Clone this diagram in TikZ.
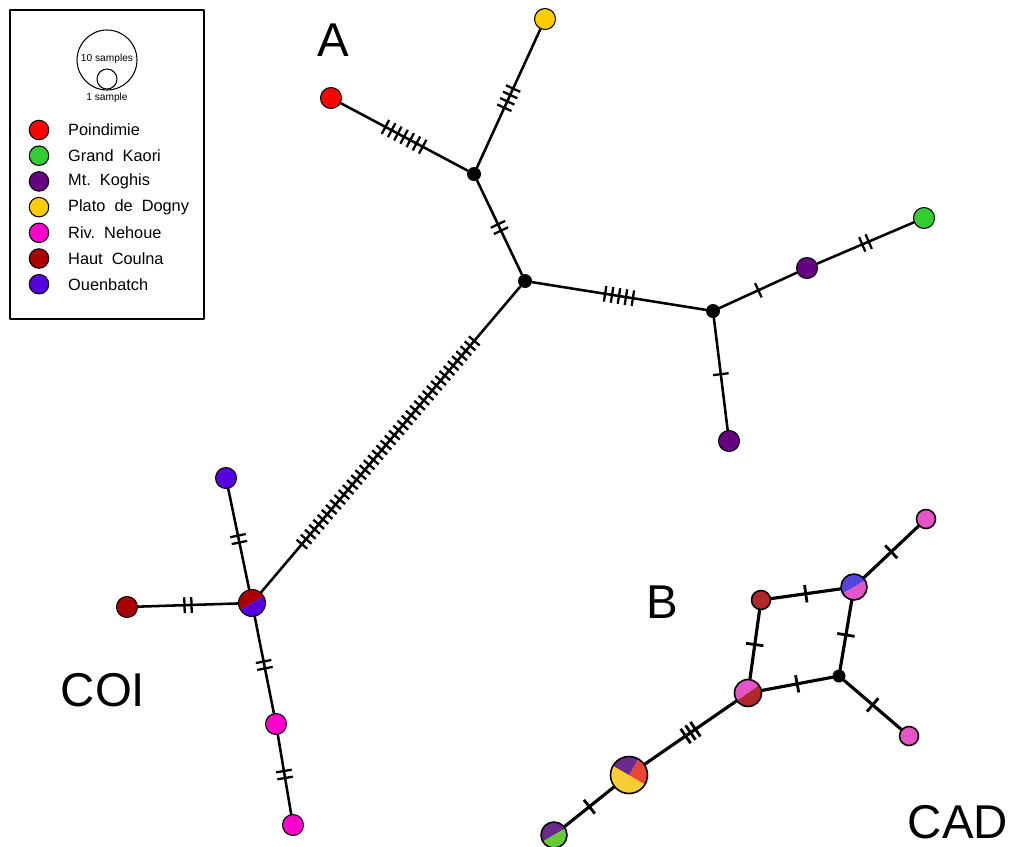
\documentclass[tikz,border=0pt]{standalone}
\usepackage{fontspec}
\setmainfont{Liberation Sans}
\usetikzlibrary{decorations.markings}

% population colours (COI)
\definecolor{poin}{HTML}{FF0000}
\definecolor{kaori}{HTML}{33CC33}
\definecolor{koghis}{HTML}{660080}
\definecolor{dogny}{HTML}{FFCC00}
\definecolor{nehoue}{HTML}{FF00CC}
\definecolor{coulna}{HTML}{AA0000}
\definecolor{ouen}{HTML}{5500DD}
% softer palette (CAD)
\definecolor{cpink}{HTML}{E655C8}
\definecolor{cred}{HTML}{B0282A}
\definecolor{cpurple}{HTML}{6A2A8C}
\definecolor{cyellow}{HTML}{F8CC33}
\definecolor{corange}{HTML}{E84535}
\definecolor{cgreen}{HTML}{66CC33}
\definecolor{cblue}{HTML}{5544DD}

\tikzset{
  hap/.style={circle,draw,line width=0.6pt,inner sep=0pt,minimum size=4.2mm},
  vtx/.style={circle,fill=black,inner sep=0pt,minimum size=2.8mm},
  pie/.style={path picture={
      \foreach \a/\b/\c in {#1}
        \fill[\c] (path picture bounding box.center) -- ++(\a:1cm)
          arc[start angle=\a,end angle=\b,radius=1cm] -- cycle;}},
  link/.style={line width=1.45pt},
  clink/.style={line width=1.8pt},
  % n mutation ticks centred on the branch
  mut/.style={postaction={decorate,decoration={markings,
      mark=at position 0.5 with {
        \foreach \k in {1,...,#1}
          \draw[line width=1.3pt,line cap=butt]
            ({(\k-(#1+1)/2)*4pt},-4.5pt) -- ++(0,9pt);}}}},
  cmut/.style={postaction={decorate,decoration={markings,
      mark=at position 0.5 with {
        \foreach \k in {1,...,#1}
          \draw[line width=1.6pt,line cap=butt]
            ({(\k-(#1+1)/2)*3.4pt},-5pt) -- ++(0,10pt);}}}},
  biglab/.style={font=\fontsize{27}{30}\selectfont}
}

\begin{document}
\begin{tikzpicture}[x=0.02cm,y=-0.02cm,line join=round,line cap=round,font=\fontsize{9.3}{11}\selectfont]

\useasboundingbox (0,0) rectangle (1011,846);

% Legend
\draw[line width=0.6pt] (10,10) rectangle (204,319);
\draw[line width=0.6pt] (107,60) circle (6mm);
\draw[line width=0.6pt] (107,79) circle (2mm);
\node[font=\fontsize{5.8}{6}\selectfont] (ten) at (107,59) {10 samples};
\node[font=\fontsize{5.8}{6}\selectfont] (one) at (107,98) {1 sample};
\foreach \c/\t [count=\i] in {poin/Poindimie,kaori/Grand\ \ Kaori,koghis/Mt.\ \ Koghis,
    dogny/Plato\ \ de\ \ Dogny,nehoue/Riv.\ \ Nehoue,coulna/Haut\ \ Coulna,ouen/Ouenbatch}{
  \node[hap,fill=\c,minimum size=3.9mm] (key\i) at (39,104.3+25.7*\i) {};
  \node[anchor=west] (name\i) at (62,104.3+25.7*\i) {\t};
}

% Labels
\node[biglab] (labA) at (333,40) {A};
\node[biglab] (labB) at (662,602) {B};
\node[biglab] (labCOI) at (103,690) {COI};
\node[biglab] (labCAD) at (958,822) {CAD};

% COI network
\node[hap,fill=poin] (poin) at (331,98) {};
\node[hap,fill=dogny] (dogny) at (545,19) {};
\node[vtx] (v1) at (474,174) {};
\node[vtx] (v2) at (525,281) {};
\node[vtx] (v3) at (713,311) {};
\node[hap,fill=koghis] (kog1) at (807,268) {};
\node[hap,fill=kaori] (kaori) at (924,218) {};
\node[hap,fill=koghis] (kog2) at (729,441) {};
\node[hap,minimum size=5.4mm,pie={30/210/coulna,210/390/ouen}] (coi) at (252,603) {};
\node[hap,fill=ouen] (ouen) at (226,478) {};
\node[hap,fill=coulna] (coulna) at (127,607) {};
\node[hap,fill=nehoue] (neh1) at (276,724) {};
\node[hap,fill=nehoue] (neh2) at (293,825) {};

\draw[link,mut=7] (poin) -- (v1);
\draw[link,mut=4] (dogny) -- (v1);
\draw[link,mut=2] (v1) -- (v2);
\draw[link,mut=5] (v2) -- (v3);
\draw[link,mut=1] (v3) -- (kog1);
\draw[link,mut=2] (kog1) -- (kaori);
\draw[link,mut=1] (v3) -- (kog2);
\draw[link,postaction={decorate,decoration={markings,
    mark=at position 0.51 with {
      \foreach \k in {1,...,42}
        \draw[line width=1.3pt,line cap=butt] ({(\k-21.5)*3.7pt},-4pt) -- ++(0,8pt);}}}]
  (v2) -- (coi);
\draw[link,mut=2] (coi) -- (ouen);
\draw[link,mut=2] (coi) -- (coulna);
\draw[link,mut=2] (coi) -- (neh1);
\draw[link,mut=2] (neh1) -- (neh2);

% CAD network
\node[hap,line width=0.9pt,minimum size=7.4mm,
  pie={150/330/cyellow,330/420/corange,60/150/cpurple}] (big) at (629,775) {};
\node[hap,line width=0.9pt,minimum size=5.2mm,pie={30/210/cpurple,210/390/cgreen}] (small) at (554,835) {};
\node[hap,line width=0.9pt,minimum size=5.4mm,pie={35/215/cpink,215/395/cred}] (pr) at (748,693) {};
\node[hap,line width=0.9pt,minimum size=3.8mm,fill=cred] (dr) at (761,600) {};
\node[hap,line width=0.9pt,minimum size=5.2mm,pie={30/210/cblue,210/390/cpink}] (bp) at (854,587) {};
\node[vtx,minimum size=2.6mm] (cb) at (839,676) {};
\node[hap,line width=0.9pt,minimum size=3.8mm,fill=cpink] (pk1) at (926,519) {};
\node[hap,line width=0.9pt,minimum size=3.8mm,fill=cpink] (pk2) at (909,736) {};

\draw[clink,cmut=1] (big) -- (small);
\draw[clink,cmut=3] (big) -- (pr);
\draw[clink,cmut=1] (pr) -- (dr);
\draw[clink,cmut=1] (dr) -- (bp);
\draw[clink,cmut=1] (bp) -- (cb);
\draw[clink,cmut=1] (pr) -- (cb);
\draw[clink,cmut=1] (bp) -- (pk1);
\draw[clink,cmut=1] (cb) -- (pk2);

\end{tikzpicture}
\end{document}
